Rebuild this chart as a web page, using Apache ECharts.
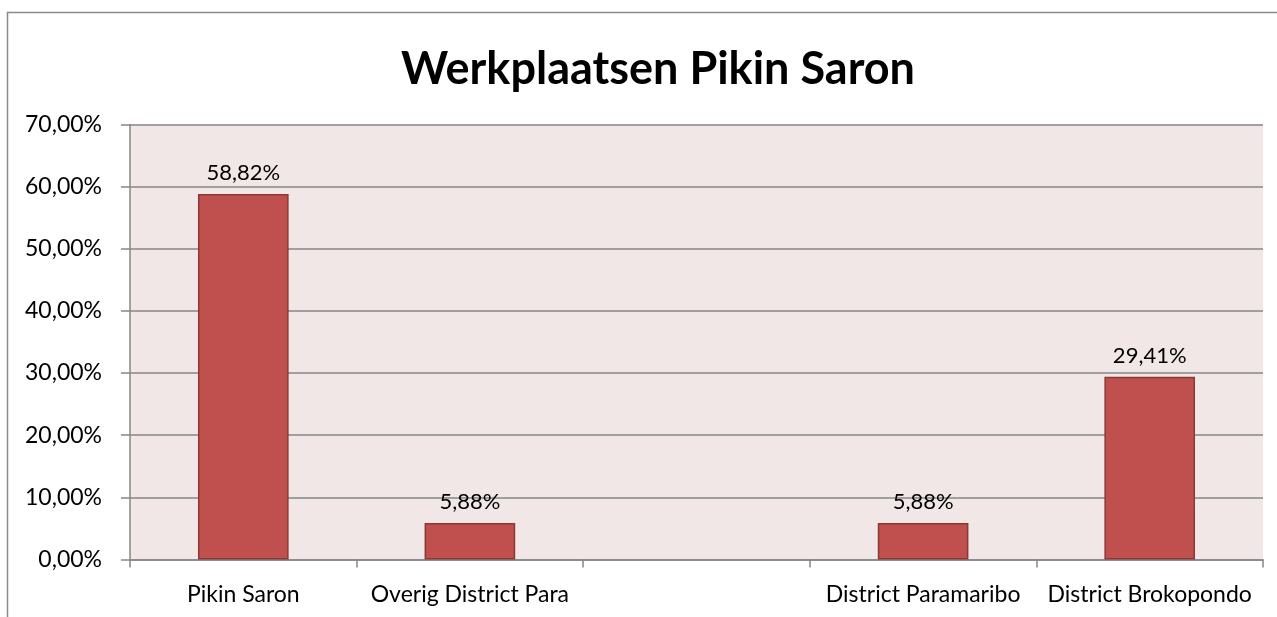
<!DOCTYPE html>
<html>
<head>
<meta charset="utf-8">
<script src="https://cdn.jsdelivr.net/npm/echarts@6/dist/echarts.min.js"></script>
<style>
  html, body { margin: 0; padding: 0; background: #ffffff; }
  #chart { width: 1277px; height: 617px; }
</style>
</head>
<body>
<div id="chart"></div>
<script>
// Herkomst van de deelnemers, als percentage van het totaal
const categories = ['Pikin Saron', 'Overig District Para', '', 'District Paramaribo', 'District Brokopondo'];
const percentages = [58.82, 5.88, null, 5.88, 29.41];
const yTicks = [0, 10, 20, 30, 40, 50, 60, 70];

const FONT = 'Lato';
const fmt = v => v.toFixed(2).replace('.', ',') + '%';

const chart = echarts.init(document.getElementById('chart'), null, { renderer: 'canvas' });

chart.setOption({
  backgroundColor: '#ffffff',
  animation: false,
  title: {
    text: 'Werkplaatsen Pikin Saron',
    left: 396,
    top: 42,
    textStyle: { fontFamily: FONT, fontSize: 45, fontWeight: 'bold', color: '#000000' }
  },
  graphic: [
    {
      type: 'rect',
      shape: { x: 7.5, y: 12.5, width: 1300, height: 700 },
      style: { fill: 'none', stroke: '#8a8a8a', lineWidth: 1.5 },
      z: -1
    }
  ],
  grid: {
    left: 130, right: 14, top: 124.5, bottom: 57.5,
    show: true, backgroundColor: '#F2E7E7', borderWidth: 0
  },
  xAxis: {
    type: 'category',
    data: categories,
    axisLine: { show: true, lineStyle: { color: '#868686', width: 1.5 } },
    axisTick: { show: true, alignWithLabel: false, length: 8, lineStyle: { color: '#868686', width: 1.5 } },
    axisLabel: { interval: 0, margin: 24, fontFamily: FONT, fontSize: 23, color: '#000000' }
  },
  yAxis: {
    type: 'value',
    min: 0, max: 70, interval: 10,
    axisLine: { show: true, lineStyle: { color: '#868686', width: 1.5 } },
    axisTick: { show: true, length: 9, lineStyle: { color: '#868686', width: 1.5 } },
    splitLine: { show: true, lineStyle: { color: '#868686', width: 1.5 } },
    axisLabel: {
      margin: 28, fontFamily: FONT, fontSize: 23, color: '#000000',
      formatter: v => yTicks.includes(v) ? fmt(v) : ''
    }
  },
  series: [
    {
      type: 'bar',
      data: percentages,
      barCategoryGap: '60%',
      itemStyle: { color: '#C0504D', borderColor: '#8C3836', borderWidth: 1.5 },
      label: {
        show: true, position: 'top', distance: 10,
        fontFamily: FONT, fontSize: 22, color: '#000000',
        formatter: p => fmt(p.value)
      }
    }
  ]
});
</script>
</body>
</html>
